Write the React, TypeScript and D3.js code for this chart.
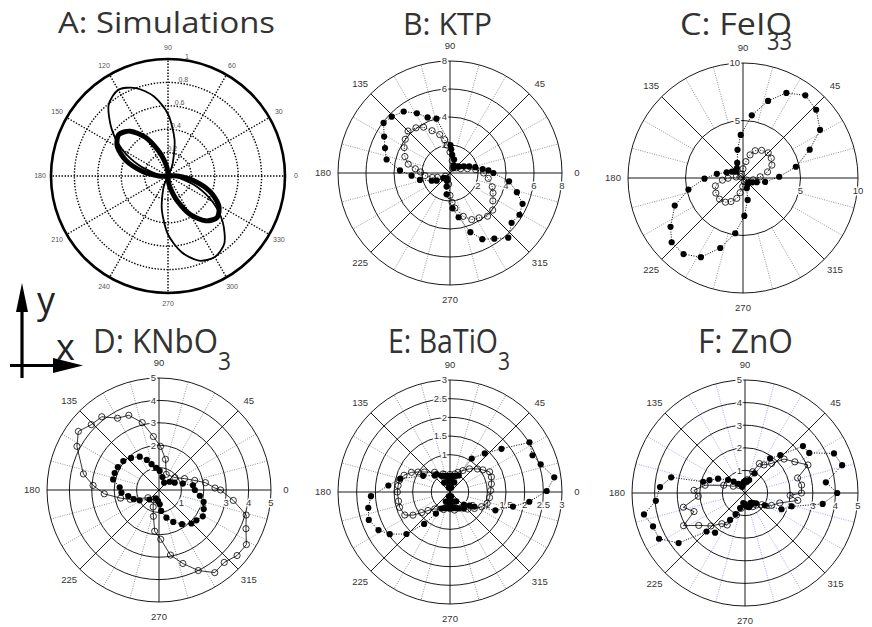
import React from "react";
import * as d3 from "d3";

const W = 872;
const H = 627;

// ---------- A: Simulations (normalised intensity) ----------
const simAngleTicks = [0, 30, 60, 90, 120, 150, 180, 210, 240, 270, 300, 330];
const simRadialTicks = [0.2, 0.4, 0.6, 0.8, 1];
const simThinAngles = [0, 30, 60, 70, 80, 90, 100, 110, 120, 130, 140, 150, 160, 170, 180, 210, 240, 250, 260, 270, 280, 290, 300, 310, 320, 330, 340, 350];
const simThinValues = [0.03, 0, 0.02, 0.12, 0.32, 0.53, 0.69, 0.8, 0.85, 0.79, 0.63, 0.45, 0.26, 0.1, 0.02, 0, 0.02, 0.12, 0.3, 0.5, 0.66, 0.77, 0.8, 0.75, 0.61, 0.44, 0.26, 0.1];
const simThickAngles = [0, 10, 45, 90, 100, 110, 120, 130, 140, 150, 160, 170, 180, 190, 225, 270, 280, 290, 300, 310, 320, 330, 340, 350];
const simThickValues = [0.08, 0.01, 0, 0.03, 0.1, 0.22, 0.38, 0.5, 0.55, 0.5, 0.38, 0.22, 0.08, 0.01, 0, 0.03, 0.1, 0.22, 0.38, 0.5, 0.55, 0.5, 0.38, 0.22];

// ---------- shared polar angle ticks ----------
const polarAngleTicks = [0, 45, 90, 135, 180, 225, 270, 315];

// ---------- B: KTP ----------
const ktpTicks = [2, 4, 6, 8];
const ktpSolidAngles = [0, 4, 7, 13, 19, 26, 35, 42, 55, 65, 73, 83, 87, 89, 104, 112, 119, 127, 136, 143, 151, 159, 168, 177, 184, 193, 203, 210, 218, 226, 238, 248, 256, 261, 274, 281, 289, 296, 304, 312, 321, 329, 337, 344, 352];
const ktpSolidValues = [3.1, 2.75, 2.35, 1.85, 1.45, 1.1, 0.8, 0.7, 0.45, 0.6, 1.0, 1.3, 1.7, 2.0, 4.0, 4.28, 4.88, 5.5, 5.79, 5.94, 5.38, 4.97, 4.63, 3.58, 2.75, 2.2, 1.42, 1.1, 0.6, 0.5, 0.45, 0.6, 1.0, 1.54, 2.53, 3.22, 4.47, 5.26, 5.66, 6.22, 5.66, 5.79, 5.63, 4.97, 4.26];
const ktpHollowAngles = [0, 7.5, 14, 22, 39, 60, 80, 90, 96, 99, 105, 113, 120, 127, 135, 143, 151, 160, 168, 173, 178, 186, 194, 199, 215, 250, 263, 270, 274, 278, 287, 295, 303, 311, 319, 327, 335, 342, 352];
const ktpHollowValues = [2.4, 1.85, 1.28, 0.82, 0.58, 0.4, 0.9, 1.5, 2.0, 2.41, 2.84, 3.28, 3.78, 4.04, 4.24, 4.0, 3.74, 3.43, 3.05, 2.5, 2.1, 1.8, 1.3, 0.95, 0.4, 0.5, 0.8, 1.6, 2.1, 2.53, 3.24, 3.67, 3.82, 4.09, 4.04, 3.65, 3.39, 3.17, 2.76];

// ---------- C: FeIO3 ----------
const feioTicks = [5, 10];
const feioSolidAngles = [2, 12, 23, 32, 43, 53, 63, 72, 82, 93, 101, 111, 122, 135, 150, 161, 171, 181, 192, 202, 214, 222, 232, 242, 252, 262, 272, 282, 290, 305, 320, 335, 343, 350];
const feioSolidValues = [3.15, 4.7, 6.3, 7.9, 8.7, 9.0, 8.3, 7.05, 5.5, 3.75, 2.5, 1.4, 1.0, 0.8, 1.1, 1.5, 2.3, 3.35, 4.85, 6.4, 7.6, 8.35, 8.4, 7.8, 6.4, 4.85, 3.3, 1.95, 0.95, 0.7, 0.6, 0.9, 1.25, 1.95];
const feioHollowAngles = [4, 14, 24, 35, 45, 56, 66, 73, 80, 90, 110, 150, 172, 181, 186, 196, 209, 222, 234, 243, 253, 259, 268, 290, 330, 350];
const feioHollowValues = [1.5, 2.2, 2.75, 3.0, 3.1, 2.9, 2.6, 2.1, 1.45, 0.8, 0.35, 0.25, 0.6, 1.3, 1.8, 2.5, 2.7, 2.75, 2.6, 2.3, 1.85, 1.3, 0.75, 0.35, 0.35, 0.9];

// ---------- D: KNbO3 ----------
const knboTicks = [1, 2, 3, 4, 5];
const knboSolidAngles = [0, 8, 15, 25, 38, 55, 75, 88, 97, 106, 112, 120, 131, 141, 151, 159, 167, 176, 184, 191, 200, 208, 225, 250, 265, 273, 276, 285, 294, 304, 314, 321, 329, 337, 345, 352];
const knboSolidValues = [1.6, 1.53, 1.1, 0.77, 0.6, 0.4, 0.6, 0.85, 1.0, 1.2, 1.45, 1.72, 1.9, 2.05, 2.1, 2.12, 2.1, 1.76, 1.68, 1.4, 1.2, 0.98, 0.6, 0.4, 0.5, 0.64, 0.94, 1.28, 1.56, 1.84, 2.08, 2.15, 2.28, 2.17, 2.06, 1.84];
const knboHollowAngles = [0, 2, 9, 15, 24, 38, 65, 78, 88, 96, 104, 112, 120, 128, 136, 144, 152, 168, 176, 184, 192, 198, 215, 240, 251, 258, 264, 272, 280, 288, 296, 304, 312, 320, 328, 336, 344, 352];
const knboHollowValues = [2.75, 2.5, 2.1, 1.65, 1.25, 0.9, 0.77, 1.4, 1.95, 2.4, 3.1, 3.6, 3.7, 4.15, 4.2, 4.45, 4.15, 3.45, 2.95, 2.45, 1.75, 1.35, 0.6, 0.5, 0.8, 1.2, 1.85, 2.2, 2.95, 3.45, 4.0, 4.45, 4.35, 4.55, 4.6, 4.25, 4.05, 3.35];

// ---------- E: BaTiO3 ----------
const batioTicks = [0.5, 1, 1.5, 2, 2.5, 3];
const batioSolidAngles = [0.6, 8, 17, 24, 32, 40, 48, 57, 62, 66, 70, 74, 78, 82, 86, 90, 94, 98, 102, 106, 110, 114, 118, 122, 127, 133, 149, 165, 174, 183, 191, 199, 208, 215, 224, 231, 237, 242, 246, 250, 254, 258, 262, 266, 270, 274, 278, 282, 286, 290, 294, 298, 304, 310, 318, 325, 329, 338, 347, 353];
const batioSolidValues = [2.59, 2.82, 2.54, 2.42, 2.51, 1.8, 1.39, 1.07, 0.5, 0.28, 0.46, 0.12, 0.44, 0.28, 0.43, 0.12, 0.43, 0.28, 0.44, 0.12, 0.46, 0.28, 0.49, 0.3, 0.59, 0.6, 0.84, 1.38, 1.66, 2.12, 2.23, 2.3, 2.17, 1.97, 1.62, 1.1, 0.69, 0.5, 0.28, 0.46, 0.12, 0.44, 0.28, 0.43, 0.12, 0.43, 0.28, 0.44, 0.12, 0.46, 0.28, 0.5, 0.3, 0.58, 0.5, 0.64, 0.76, 1.31, 1.73, 2.14];
const batioHollowAngles = [2, 11, 20, 27, 34, 40, 50, 59, 68, 75, 90, 111, 128, 142, 148, 153, 160, 167, 173, 180, 190, 197, 207, 212, 216, 220, 228, 250, 270, 284, 305, 316, 326, 335, 343, 352];
const batioHollowValues = [1.09, 1.13, 1.18, 1.19, 1.06, 0.96, 0.81, 0.67, 0.57, 0.5, 0.47, 0.52, 0.67, 0.87, 1.01, 1.16, 1.31, 1.39, 1.4, 1.41, 1.4, 1.41, 1.36, 1.17, 0.94, 0.77, 0.61, 0.5, 0.45, 0.5, 0.52, 0.66, 0.79, 0.93, 1.04, 1.07];

// ---------- F: ZnO ----------
const znoTicks = [1, 2, 3, 4, 5];
const znoSolidAngles = [0, 7.5, 16, 24, 32, 39, 47, 54, 64, 72, 80, 88, 96, 104, 115, 125, 135, 142, 152, 160, 165, 168, 176, 185, 192, 200, 208, 217, 225, 233, 241, 246, 252, 260, 268, 276, 284, 292, 300, 308, 317, 328, 336, 344, 352];
const znoSolidValues = [4.08, 3.61, 4.47, 4.31, 3.35, 3.3, 2.29, 1.89, 0.97, 0.6, 0.5, 0.55, 0.5, 0.4, 0.3, 0.5, 0.71, 0.95, 1.35, 1.67, 1.92, 3.34, 3.77, 3.96, 4.57, 4.33, 4.31, 3.68, 2.41, 2.2, 1.36, 1.02, 0.7, 0.45, 0.5, 0.6, 0.65, 0.6, 0.5, 0.55, 0.67, 1.03, 1.77, 2.15, 3.47];
const znoHollowAngles = [0, 8, 16, 24, 32, 41, 48, 56, 64, 70, 80, 100, 130, 150, 160, 169, 177, 184, 193, 200, 208, 215, 224, 233, 241, 249, 256, 270, 287, 300, 313, 325, 335, 344, 352, 357];
const znoHollowValues = [2.5, 2.53, 2.42, 3.05, 2.6, 2.29, 1.76, 1.5, 1.45, 1.0, 0.6, 0.4, 0.45, 0.6, 1.0, 1.8, 2.26, 2.07, 2.8, 2.4, 3.08, 2.5, 2.1, 1.7, 1.62, 1.04, 0.7, 0.5, 0.63, 0.7, 0.73, 0.9, 1.3, 1.6, 2.36, 2.0];

// d3 radial angle: clockwise from north; the plots measure counter-clockwise from east
const rad = (deg: number) => ((90 - deg) * Math.PI) / 180;

const TEXT = "#333";
const LABEL_FONT = "'Liberation Sans', Arial, sans-serif";
const TITLE_FONT = "'Open Sans', 'Noto Sans', sans-serif";

type Pt = [number, number];
const zip = (a: number[], v: number[]): Pt[] => a.map((d, i) => [d, v[i]]);

function Series({ angles, values, r, filled, dash, width }: {
  angles: number[]; values: number[]; r: d3.ScaleLinear<number, number>;
  filled: boolean; dash?: string; width: number;
}) {
  const pts = zip(angles, values);
  const line = d3
    .lineRadial<Pt>()
    .angle((d) => rad(d[0]))
    .radius((d) => r(d[1]))
    .curve(d3.curveLinearClosed);
  return (
    <g>
      <path d={line(pts) || ""} fill="none" stroke="#000" strokeWidth={width} strokeDasharray={dash} />
      {pts.map((d, i) => {
        const [x, y] = d3.pointRadial(rad(d[0]), r(d[1]));
        return filled ? (
          <circle key={i} cx={x} cy={y} r={3.1} fill="#000" />
        ) : (
          <circle key={i} cx={x} cy={y} r={3.1} fill="none" stroke="#000" strokeWidth={0.8} />
        );
      })}
    </g>
  );
}

type SeriesSpec = { angles: number[]; values: number[]; filled: boolean; dash?: string; width: number };

function PolarPanel({ cx, cy, R, ticks, spokeColor, series }: {
  cx: number; cy: number; R: number; ticks: number[]; spokeColor: string; series: SeriesSpec[];
}) {
  const max = ticks[ticks.length - 1];
  const r = d3.scaleLinear().domain([0, max]).range([0, R]);
  const minorSpokes = d3.range(15, 360, 15).filter((a) => a % 45 !== 0);
  const halo = { paintOrder: "stroke" as const, stroke: "#fff", strokeWidth: 3 };
  // angle labels that would fall past the right edge of the page are left out
  const angleLabels = polarAngleTicks
    .map((a) => ({ a, p: d3.pointRadial(rad(a), R + 15) }))
    .filter(({ p }) => cx + p[0] < W - 4);
  return (
    <g transform={`translate(${cx},${cy})`}>
      {minorSpokes.map((a) => {
        const [x1, y1] = d3.pointRadial(rad(a), r(ticks[0]));
        const [x2, y2] = d3.pointRadial(rad(a), R);
        return <line key={a} x1={x1} y1={y1} x2={x2} y2={y2} stroke={spokeColor} strokeWidth={0.8} strokeDasharray="1,1.4" />;
      })}
      {ticks.map((t) => (
        <circle key={t} r={r(t)} fill="none" stroke="#000" strokeWidth={0.9} />
      ))}
      {polarAngleTicks.map((a) => {
        const [x2, y2] = d3.pointRadial(rad(a), R);
        return <line key={a} x1={0} y1={0} x2={x2} y2={y2} stroke="#000" strokeWidth={0.9} />;
      })}
      <g opacity={0.999} fontSize={9.5} fill={TEXT} fontFamily={LABEL_FONT}>
        {angleLabels.map(({ a, p }) => (
          <text key={a} x={p[0]} y={p[1]} dy="0.35em" textAnchor="middle">
            {a}
          </text>
        ))}
        {ticks.map((t) => (
          <text key={"v" + t} x={-3} y={-r(t)} dy="0.35em" textAnchor="end" {...halo}>
            {t}
          </text>
        ))}
        {ticks.map((t) => (
          <text key={"h" + t} x={r(t)} y={16} textAnchor="middle" {...halo}>
            {t}
          </text>
        ))}
      </g>
      {series.map((s, i) => (
        <Series key={i} {...s} r={r} />
      ))}
    </g>
  );
}

function SimPanel({ cx, cy, R }: { cx: number; cy: number; R: number }) {
  const r = d3.scaleLinear().domain([0, 1]).range([0, R]);
  const curve = d3
    .lineRadial<Pt>()
    .angle((d) => rad(d[0]))
    .radius((d) => r(d[1]))
    .curve(d3.curveCardinalClosed.tension(0.2));
  const dotted = { stroke: "#000", strokeWidth: 1.4, strokeDasharray: "1.4,1.6", fill: "none" };
  return (
    <g transform={`translate(${cx},${cy})`}>
      {simRadialTicks.slice(0, -1).map((t) => (
        <circle key={t} r={r(t)} {...dotted} />
      ))}
      {simAngleTicks.map((a) => {
        const [x2, y2] = d3.pointRadial(rad(a), R);
        return <line key={a} x1={0} y1={0} x2={x2} y2={y2} {...dotted} />;
      })}
      <circle r={R} fill="none" stroke="#000" strokeWidth={2.6} />
      <g opacity={0.999} fontSize={7} fill="#555" fontFamily={LABEL_FONT}>
        {simAngleTicks.map((a) => {
          const [x, y] = d3.pointRadial(rad(a), R + 11);
          return (
            <text key={a} x={x} y={y} dy="0.35em" textAnchor="middle">
              {a}
            </text>
          );
        })}
        {simRadialTicks.map((t) => {
          const [x, y] = d3.pointRadial(rad(81), r(t) + 4);
          return (
            <text key={t} x={x} y={y} dy="0.35em" textAnchor="middle">
              {t}
            </text>
          );
        })}
      </g>
      <path d={curve(zip(simThinAngles, simThinValues)) || ""} fill="none" stroke="#000" strokeWidth={1.8} />
      <path d={curve(zip(simThickAngles, simThickValues)) || ""} fill="none" stroke="#000" strokeWidth={5} />
    </g>
  );
}

function Title({ x0, x1, y, size, text, sub, subX0, subX1, subY, subSize }: {
  x0: number; x1: number; y: number; size: number; text: string;
  sub?: string; subX0?: number; subX1?: number; subY?: number; subSize?: number;
}) {
  return (
    <g fontFamily={TITLE_FONT} fill={TEXT}>
      <text x={x0} y={y} fontSize={size} textLength={x1 - x0} lengthAdjust="spacingAndGlyphs">
        {text}
      </text>
      {sub && (
        <text x={subX0} y={subY} fontSize={subSize} textLength={(subX1 as number) - (subX0 as number)} lengthAdjust="spacingAndGlyphs">
          {sub}
        </text>
      )}
    </g>
  );
}

export default function App() {
  const dotted = "1,1.5";
  return (
    <svg width={W} height={H} style={{ position: "absolute", left: 0, top: 0, background: "#fff" }}>
      <rect width={W} height={H} fill="#fff" />

      <Title x0={58} x1={275} y={33} size={30} text="A: Simulations" />
      <Title x0={403} x1={492} y={35} size={31} text="B: KTP" />
      <Title x0={680} x1={792} y={35} size={31} text="C: FeIO" sub="33" subX0={767} subX1={792} subY={50} subSize={25} />
      <Title x0={93} x1={218} y={353} size={33} text="D: KNbO" sub="3" subX0={218} subX1={231} subY={370} subSize={25} />
      <Title x0={388} x1={498} y={353} size={33} text="E: BaTiO" sub="3" subX0={498} subX1={510} subY={370} subSize={25} />
      <Title x0={698} x1={793} y={353} size={33} text="F: ZnO" />

      <SimPanel cx={168} cy={176} R={117} />

      <PolarPanel
        cx={450} cy={173} R={112} ticks={ktpTicks} spokeColor="#777"
        series={[
          { angles: ktpHollowAngles, values: ktpHollowValues, filled: false, dash: dotted, width: 0.9 },
          { angles: ktpSolidAngles, values: ktpSolidValues, filled: true, dash: dotted, width: 1 },
        ]}
      />
      <PolarPanel
        cx={743} cy={178} R={115} ticks={feioTicks} spokeColor="#777"
        series={[
          { angles: feioHollowAngles, values: feioHollowValues, filled: false, dash: dotted, width: 0.9 },
          { angles: feioSolidAngles, values: feioSolidValues, filled: true, dash: dotted, width: 1 },
        ]}
      />
      <PolarPanel
        cx={159} cy={490} R={112} ticks={knboTicks} spokeColor="#777"
        series={[
          { angles: knboHollowAngles, values: knboHollowValues, filled: false, width: 0.8 },
          { angles: knboSolidAngles, values: knboSolidValues, filled: true, dash: dotted, width: 1 },
        ]}
      />
      <PolarPanel
        cx={450} cy={492} R={112} ticks={batioTicks} spokeColor="#777"
        series={[
          { angles: batioHollowAngles, values: batioHollowValues, filled: false, width: 0.8 },
          { angles: batioSolidAngles, values: batioSolidValues, filled: true, dash: dotted, width: 1 },
        ]}
      />
      <PolarPanel
        cx={745} cy={493} R={113} ticks={znoTicks} spokeColor="#8a8aff"
        series={[
          { angles: znoHollowAngles, values: znoHollowValues, filled: false, width: 0.8 },
          { angles: znoSolidAngles, values: znoSolidValues, filled: true, dash: dotted, width: 1 },
        ]}
      />

      {/* crystal axes */}
      <g fill="#000" stroke="none">
        <line x1={22} y1={378} x2={22} y2={300} stroke="#000" strokeWidth={3.2} />
        <polygon points="22,283 16,312 28,312" />
        <line x1={10} y1={365.5} x2={60} y2={365.5} stroke="#000" strokeWidth={3.2} />
        <polygon points="83,365.5 53,358 53,373" />
      </g>
      <text x={37} y={313} fontSize={36} fill="#222" fontFamily={TITLE_FONT}>y</text>
      <text x={56} y={360} fontSize={36} fill="#222" fontFamily={TITLE_FONT}>x</text>
    </svg>
  );
}
